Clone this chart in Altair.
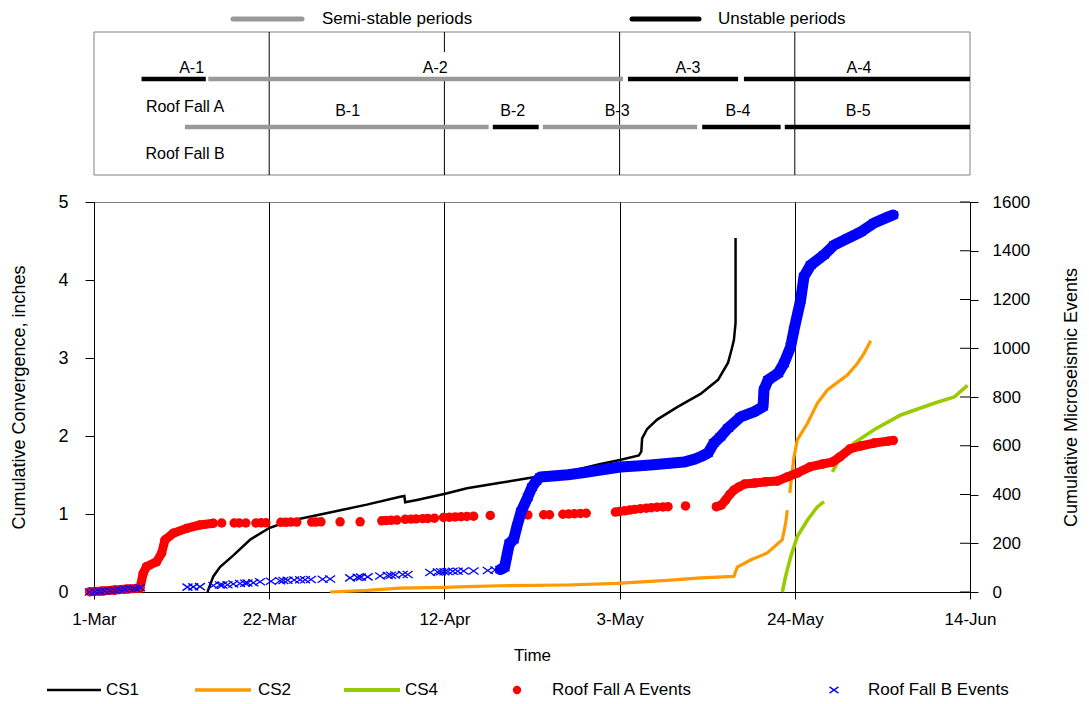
import altair as alt
import pandas as pd

FONT = "Liberation Sans"

# ---------------- axes ----------------
TICK_DAYS = [0, 21, 42, 63, 84, 105]          # days after 1-Mar
TICK_LABELS = ["1-Mar", "22-Mar", "12-Apr", "3-May", "24-May", "14-Jun"]
LEFT_TICKS = [0, 1, 2, 3, 4, 5]
RIGHT_TICKS = [0, 200, 400, 600, 800, 1000, 1200, 1400, 1600]

# ---------------- convergence (inches) ----------------
CS1_DAY = [13.6, 14.3, 15.1, 16.7, 18.7, 21.0, 23.1, 24.7, 28.7, 32.7, 36.7, 37.2, 37.3, 38.7,
           42.1, 44.7, 48.7, 52.7, 56.7, 60.7, 62.9, 65.3, 65.6, 65.7, 66.3, 67.5, 69.9, 72.7,
           74.8, 76.0, 76.4, 76.7, 76.9, 76.9]
CS1_IN = [0.0, 0.2, 0.32, 0.47, 0.67, 0.82, 0.9, 0.94, 1.03, 1.12, 1.22, 1.23, 1.15, 1.18,
          1.26, 1.33, 1.4, 1.47, 1.54, 1.64, 1.69, 1.75, 1.8, 1.97, 2.09, 2.21, 2.37, 2.54,
          2.72, 2.94, 3.1, 3.23, 3.45, 4.54]

CS2_SEG1_DAY = [28.3, 32.7, 36.7, 41.9, 44.7, 48.7, 56.7, 62.7, 68.7, 72.7, 76.7, 77.1, 78.7,
                80.7, 82.5, 82.9, 83.1]
CS2_SEG1_IN = [0.0, 0.02, 0.05, 0.06, 0.07, 0.08, 0.09, 0.11, 0.15, 0.18, 0.2, 0.32, 0.41,
               0.5, 0.67, 0.88, 1.05]
CS2_SEG2_DAY = [83.4, 83.9, 84.3, 85.5, 86.7, 87.9, 90.3, 91.5, 92.3, 93.1]
CS2_SEG2_IN = [1.27, 1.73, 1.95, 2.16, 2.42, 2.59, 2.78, 2.93, 3.06, 3.22]

CS4_SEG1_DAY = [82.5, 82.9, 83.5, 84.3, 85.5, 86.7, 87.5]
CS4_SEG1_IN = [0.0, 0.2, 0.45, 0.71, 0.92, 1.09, 1.16]
CS4_SEG2_DAY = [88.5, 89.5, 91.1, 93.5, 96.7, 100.7, 103.1, 104.7]
CS4_SEG2_IN = [1.54, 1.73, 1.91, 2.08, 2.27, 2.42, 2.5, 2.65]

# ---------------- microseismic events (cumulative count) ----------------
RFA_BAND1_DAY = [-0.5, 1.0, 2.5, 4.0, 5.5, 5.9, 6.3, 7.5, 8.1, 8.5, 9.5, 11.1, 12.7, 14.3]
RFA_BAND1_N = [1, 4, 8, 12, 15, 77, 104, 124, 159, 213, 241, 261, 275, 282]
RFA_SPARSE_DAY = [15.3, 16.8, 17.4, 18.2, 19.4, 20.0, 20.6, 22.4, 23.0, 23.6, 24.3, 26.1, 26.6,
                  27.2, 29.5, 31.9, 34.5, 35.0, 35.6, 36.3, 37.3, 38.0, 38.6, 39.4, 40.0, 40.8,
                  41.9, 42.6, 43.3, 44.0, 44.7, 45.5, 47.5, 52.0, 53.9, 54.6, 56.2, 56.9, 57.6,
                  58.3, 59.0, 62.5, 63.0, 63.6, 64.2, 64.8, 65.5, 66.2, 66.8, 67.5, 68.2, 68.8,
                  70.9]
RFA_SPARSE_N = [283, 283, 283, 283, 283, 284, 284, 286, 286, 287, 287, 287, 287,
                288, 288, 288, 292, 293, 294, 295, 298, 299, 300, 301, 302, 303,
                306, 307, 308, 309, 310, 311, 314, 316, 317, 317, 319, 320, 321,
                322, 323, 328, 330, 333, 336, 339, 342, 344, 346, 348, 349, 350,
                353]
RFA_BAND2_DAY = [74.6, 75.2, 75.7, 76.2, 76.7, 77.3, 78.0, 79.2, 80.5, 81.9, 83.1, 84.3, 85.8,
                 87.3, 88.5, 89.4, 90.6, 91.9, 93.5, 95.2, 95.8]
RFA_BAND2_N = [350, 357, 377, 400, 418, 431, 443, 447, 452, 455, 472, 488, 513,
               525, 533, 554, 587, 599, 611, 619, 622]

RFB_SPARSE_DAY = [-0.5, 0.1, 0.7, 1.3, 1.9, 2.5, 3.1, 3.7, 4.3, 4.9, 5.5,
                  11.2, 11.9, 12.7, 14.3, 15.1, 15.4, 16.0, 16.7, 17.5, 18.1, 18.4, 19.1, 19.9,
                  21.2, 22.3, 22.7, 23.2, 24.0, 24.7, 25.3, 26.0, 27.4, 28.3, 30.7, 31.6, 32.0,
                  32.8, 34.3, 35.2, 35.6, 36.1, 37.0, 37.6, 40.3, 41.2, 41.6, 42.0, 42.4, 43.0,
                  43.6, 44.3, 45.5, 47.2, 48.1]
RFB_SPARSE_N = [0, 1, 2, 4, 5, 7, 9, 11, 13, 15, 18,
                20, 21, 22, 27, 29, 29, 30, 33, 35, 36, 37, 38, 42,
                44, 46, 47, 48, 49, 50, 50, 51, 52, 53, 58, 60, 61,
                62, 66, 68, 69, 70, 72, 72, 80, 82, 83, 83, 84, 85,
                85, 86, 86, 88, 90]
RFB_BAND_DAY = [48.7, 49.2, 49.5, 49.8, 50.3, 50.7, 51.2, 52.0, 52.5, 53.0, 53.5, 55.0, 56.8,
                58.8, 60.7, 63.1, 65.0, 66.7, 68.7, 70.7, 72.0, 72.7, 73.6, 74.3, 75.1, 76.0,
                77.5, 79.1, 80.2, 80.3, 80.8, 82.0, 82.7, 83.5, 83.9, 84.7, 85.1, 85.9, 87.5,
                88.7, 90.4, 91.9, 93.5, 95.2, 95.8]
RFB_BAND_N = [92, 100, 150, 200, 215, 270, 330, 390, 430, 455, 472, 476, 481,
              490, 500, 513, 517, 521, 527, 533, 545, 555, 570, 611, 637, 672,
              718, 739, 760, 829, 870, 897, 938, 1006, 1075, 1198, 1294, 1341, 1383,
              1423, 1452, 1477, 1514, 1539, 1547]

# ---------------- stability periods (top panel) ----------------
PERIOD_NAME = ["A-1", "A-2", "A-3", "A-4", "B-1", "B-2", "B-3", "B-4", "B-5"]
PERIOD_ROW = ["A", "A", "A", "A", "B", "B", "B", "B", "B"]
PERIOD_KIND = ["Unstable", "Semi-stable", "Unstable", "Unstable",
               "Semi-stable", "Unstable", "Semi-stable", "Unstable", "Unstable"]
PERIOD_START = [5.7, 13.7, 64.0, 77.9, 10.9, 47.8, 53.8, 72.9, 82.8]
PERIOD_END = [13.4, 63.4, 77.2, 105.0, 47.3, 53.3, 72.3, 82.3, 105.0]
PERIOD_LABEL_DAY = [11.7, 40.9, 71.2, 91.7, 30.4, 50.2, 62.7, 77.2, 91.6]
ROW_LABELS = ["Roof Fall A", "Roof Fall B"]
KIND_NAMES = ["Semi-stable", "Unstable"]
KIND_LEGEND = ["Semi-stable periods", "Unstable periods"]
SERIES_LEGEND = ["CS1", "CS2", "CS4", "Roof Fall A Events", "Roof Fall B Events"]

W, H = 876, 390
XPATH = "M-1,-0.7L1,0.7M-1,0.7L1,-0.7"

# ---------------- encodings ----------------
label_expr = ("[" + ",".join("'%s'" % t for t in TICK_LABELS) + "][indexof(["
              + ",".join(str(d) for d in TICK_DAYS) + "], datum.value)]")
XSCALE = alt.Scale(domain=[TICK_DAYS[0], TICK_DAYS[-1]], nice=False, zero=False)
X_AXIS = alt.Axis(values=TICK_DAYS, labelExpr=label_expr, tickSize=7, tickColor="black",
                  domainColor="black", labelFontSize=17, labelPadding=12, labelFlush=False,
                  labelOverlap=False, grid=True, gridColor="black", gridOpacity=1, gridWidth=1,
                  title="Time", titleFontSize=17, titleY=63, titleBaseline="middle",
                  titleFontWeight="normal")


def xenc(field):
    return alt.X(field + ":Q", scale=XSCALE, axis=X_AXIS)


YL = alt.Y("val:Q", scale=alt.Scale(domain=[0, 5], nice=False, zero=True),
           axis=alt.Axis(orient="left", values=LEFT_TICKS, format="d", tickSize=9,
                         tickColor="black", domainColor="black", labelFontSize=18,
                         labelPadding=17, labelFlush=False, grid=False,
                         title="Cumulative Convergence, inches", titleFontSize=18,
                         titleFontWeight="normal", titleAngle=270, titleX=-75, titleY=H / 2,
                         titleAlign="center", titleBaseline="middle"))
YR = alt.Y("n:Q", scale=alt.Scale(domain=[0, 1600], nice=False, zero=True),
           axis=alt.Axis(orient="right", values=RIGHT_TICKS, format="d", tickSize=8,
                         tickColor="black", domainColor="black", labelFontSize=17,
                         labelPadding=14, labelFlush=False, grid=False,
                         title="Cumulative Microseismic Events", titleFontSize=18,
                         titleFontWeight="normal", titleAngle=270, titleX=101, titleY=H / 2,
                         titleAlign="center", titleBaseline="middle"))


def seg_df(days, vals, seg, col="val"):
    return pd.DataFrame({"day": days, col: vals, "seg": seg, "idx": list(range(len(days)))})


# ---------------- convergence lines ----------------
cs1 = alt.Chart(seg_df(CS1_DAY, CS1_IN, "s1")).mark_line(
    color="black", strokeWidth=2.5).encode(x=xenc("day"), y=YL, detail="seg:N", order="idx:Q")
cs2 = alt.Chart(pd.concat([seg_df(CS2_SEG1_DAY, CS2_SEG1_IN, "s1"),
                           seg_df(CS2_SEG2_DAY, CS2_SEG2_IN, "s2")])).mark_line(
    color="#FF9900", strokeWidth=3.2).encode(x=xenc("day"), y=YL, detail="seg:N", order="idx:Q")
cs4 = alt.Chart(pd.concat([seg_df(CS4_SEG1_DAY, CS4_SEG1_IN, "s1"),
                           seg_df(CS4_SEG2_DAY, CS4_SEG2_IN, "s2")])).mark_line(
    color="#99CC00", strokeWidth=3.6).encode(x=xenc("day"), y=YL, detail="seg:N", order="idx:Q")
left_group = alt.layer(cs1, cs2, cs4)

# ---------------- event series ----------------
rfa_band_df = pd.concat([seg_df(RFA_BAND1_DAY, RFA_BAND1_N, "b1", "n"),
                         seg_df(RFA_BAND2_DAY, RFA_BAND2_N, "b2", "n")])
rfa_pts_df = pd.concat([rfa_band_df, seg_df(RFA_SPARSE_DAY, RFA_SPARSE_N, "sp", "n")])
rfb_band_df = seg_df(RFB_BAND_DAY, RFB_BAND_N, "b1", "n")
rfb_pts_df = pd.concat([rfb_band_df, seg_df(RFB_SPARSE_DAY, RFB_SPARSE_N, "sp", "n")])

inner_ticks = alt.Chart(pd.DataFrame({"n": RIGHT_TICKS})).mark_rule(
    color="black", strokeWidth=1).encode(y=YR, x=alt.value(W - 10), x2=alt.value(W))
rfa_band = alt.Chart(rfa_band_df).mark_line(
    color="#FF0000", strokeWidth=9, strokeCap="round", strokeJoin="round").encode(
    x=xenc("day"), y=YR, detail="seg:N", order="idx:Q")
rfa_pts = alt.Chart(rfa_pts_df).mark_circle(color="#FF0000", size=90, opacity=1).encode(
    x=xenc("day"), y=YR)
rfb_band = alt.Chart(rfb_band_df).mark_line(
    color="#0000FF", strokeWidth=11, strokeCap="round", strokeJoin="round").encode(
    x=xenc("day"), y=YR, detail="seg:N", order="idx:Q")
rfb_pts = alt.Chart(rfb_pts_df).mark_point(
    shape=XPATH, size=100, color="#0000FF", filled=False, strokeWidth=1.3, opacity=1).encode(
    x=xenc("day"), y=YR)
right_group = alt.layer(inner_ticks, rfa_band, rfa_pts, rfb_band, rfb_pts)

# ---------------- top panel ----------------
periods = pd.DataFrame({"name": PERIOD_NAME, "row": PERIOD_ROW, "kind": PERIOD_KIND,
                        "start": PERIOD_START, "end": PERIOD_END, "label_day": PERIOD_LABEL_DAY})
kind_color = alt.Color("kind:N", scale=alt.Scale(domain=KIND_NAMES, range=["#999999", "#000000"]),
                       legend=None)
BOX_TOP, BOX_BOT = -170, -27
ROW_Y = {"A": -123, "B": -75}
LAB_Y = {"A": -134, "B": -91}

box = alt.Chart(pd.DataFrame({"day": [TICK_DAYS[0]], "day_end": [TICK_DAYS[-1]]})).mark_rect(
    fillOpacity=0, stroke="#808080", strokeWidth=1).encode(
    x=xenc("day"), x2="day_end:Q", y=alt.value(BOX_TOP), y2=alt.value(BOX_BOT))
box_grid = alt.Chart(pd.DataFrame({"day": TICK_DAYS[1:-1]})).mark_rule(
    color="black", strokeWidth=1).encode(x=xenc("day"), y=alt.value(BOX_TOP), y2=alt.value(BOX_BOT))
label_bg = alt.Chart(periods).transform_filter("datum.row == 'A'").mark_point(
    shape="M-1,-0.65L1,-0.65L1,0.65L-1,0.65Z", size=1600, filled=True, color="white",
    opacity=1, strokeWidth=0).encode(x=xenc("label_day"), y=alt.value(-137))

decor = [box, box_grid, label_bg]
for r in ["A", "B"]:
    decor.append(alt.Chart(periods).transform_filter("datum.row == '%s'" % r).mark_rule(
        strokeWidth=4.5, strokeCap="butt").encode(
        x=xenc("start"), x2="end:Q", y=alt.value(ROW_Y[r]), color=kind_color))
    decor.append(alt.Chart(periods).transform_filter("datum.row == '%s'" % r).mark_text(
        font=FONT, fontSize=16, color="black", baseline="middle", align="center").encode(
        x=xenc("label_day"), y=alt.value(LAB_Y[r]), text="name:N"))


def text_at(txt, x, y, size=17, align="left"):
    return alt.Chart(pd.DataFrame({"t": [txt]})).mark_text(
        font=FONT, fontSize=size, color="black", baseline="middle", align=align).encode(
        x=alt.value(x), y=alt.value(y), text="t:N")


def line_at(x1, x2, y, color, width, cap="butt"):
    return alt.Chart(pd.DataFrame({"k": [0]})).mark_rule(
        color=color, strokeWidth=width, strokeCap=cap).encode(
        x=alt.value(x1), x2=alt.value(x2), y=alt.value(y))


LEG_Y = 488
decor += [
    text_at(ROW_LABELS[0], 91, -95, 16, "center"),
    text_at(ROW_LABELS[1], 91, -48, 16, "center"),
    # period legend
    line_at(139, 208, -183, "#999999", 5, "round"),
    text_at(KIND_LEGEND[0], 228, -183, 17),
    line_at(538, 605, -183, "#000000", 5, "round"),
    text_at(KIND_LEGEND[1], 624, -183, 17),
    # series legend
    line_at(-47, 7, LEG_Y, "black", 2.5),
    text_at(SERIES_LEGEND[0], 12, LEG_Y, 17),
    line_at(101, 157, LEG_Y, "#FF9900", 3.5),
    text_at(SERIES_LEGEND[1], 164, LEG_Y, 17),
    line_at(250, 306, LEG_Y, "#99CC00", 4),
    text_at(SERIES_LEGEND[2], 311, LEG_Y, 17),
    alt.Chart(pd.DataFrame({"k": [0]})).mark_circle(color="#FF0000", size=70, opacity=1).encode(
        x=alt.value(423), y=alt.value(LEG_Y)),
    text_at(SERIES_LEGEND[3], 458, LEG_Y, 17),
    alt.Chart(pd.DataFrame({"k": [0]})).mark_point(
        shape=XPATH, size=80, color="#0000FF", filled=False, strokeWidth=1.3, opacity=1).encode(
        x=alt.value(740), y=alt.value(LEG_Y)),
    text_at(SERIES_LEGEND[4], 774, LEG_Y, 17),
]

chart = alt.layer(*decor, left_group, right_group).resolve_scale(y="independent").properties(
    width=W, height=H,
    autosize=alt.AutoSizeParams(type="none"),
    padding={"left": 86, "top": 194, "right": 111, "bottom": 110},
).configure_view(stroke="#808080", strokeWidth=1).configure_axis(
    labelFont=FONT, titleFont=FONT, labelColor="black", titleColor="black")

chart.save("out.html", embed_options={"renderer": "svg", "actions": False})
